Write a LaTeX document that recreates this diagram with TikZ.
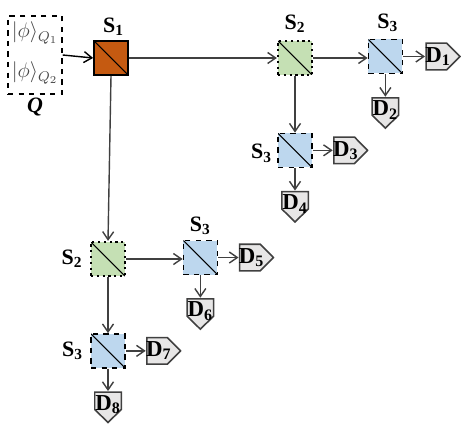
\documentclass[tikz,border=0pt]{standalone}
\usepackage{fontspec}
\setmainfont{Liberation Serif}
\usepackage{amsmath,amssymb}
\usetikzlibrary{arrows.meta,positioning}
\definecolor{splitorange}{RGB}{197,90,17}
\definecolor{splitgreen}{RGB}{197,224,180}
\definecolor{splitblue}{RGB}{189,215,238}
\definecolor{detgray}{RGB}{231,230,230}
\definecolor{wiregray}{RGB}{64,64,64}
\newcommand{\lbl}[2]{\textbf{#1\textsubscript{#2}}}
\newcommand{\rlbl}[1]{\mbox{\lbl{D}{#1}\hspace{0.2cm}}}
\newcommand{\dlbl}[1]{\raisebox{0.08cm}[0.7em][0.1em]{\lbl{D}{#1}}}
\tikzset{
  splitter/.style={draw=black, minimum width=0.68cm, minimum height=0.68cm, inner sep=0pt,
    path picture={\draw[solid, line width=0.6pt] (path picture bounding box.north west) -- (path picture bounding box.south east);}},
  firstbs/.style={splitter, fill=splitorange, line width=1pt},
  secondbs/.style={splitter, fill=splitgreen, line width=1.3pt, dotted},
  thirdbs/.style={splitter, fill=splitblue, line width=0.8pt, dashed},
  detector/.style={inner sep=0pt, font=\fontsize{13}{13}\selectfont},
  detright/.style={detector, minimum width=0.64cm, minimum height=0.56cm,
    path picture={\draw[draw=wiregray, fill=detgray, line width=0.9pt]
      ([shift={(0.4pt,-0.4pt)}]path picture bounding box.north west)
      -- ([shift={(-0.28cm,-0.4pt)}]path picture bounding box.north east)
      -- ([xshift=-0.5pt]path picture bounding box.east)
      -- ([shift={(-0.28cm,0.4pt)}]path picture bounding box.south east)
      -- ([shift={(0.4pt,0.4pt)}]path picture bounding box.south west) -- cycle;}},
  detdown/.style={detector, minimum width=0.56cm, minimum height=0.64cm,
    path picture={\draw[draw=wiregray, fill=detgray, line width=0.9pt]
      ([shift={(0.4pt,-0.4pt)}]path picture bounding box.north west)
      -- ([shift={(-0.4pt,-0.4pt)}]path picture bounding box.north east)
      -- ([shift={(-0.4pt,0.28cm)}]path picture bounding box.south east)
      -- ([yshift=0.5pt]path picture bounding box.south)
      -- ([shift={(0.4pt,0.28cm)}]path picture bounding box.south west) -- cycle;}},
  stage/.style={font=\fontsize{12.5}{13}\selectfont, inner sep=0pt},
  wire/.style={->, draw=wiregray, line width=0.8pt}
}
\begin{document}
\begin{tikzpicture}[>={Straight Barb[length=1.6mm,width=2.2mm]}]
\useasboundingbox (0,0) rectangle (9.38,-8.64);
\node[draw=black, dashed, line width=0.8pt, minimum width=1.08cm, minimum height=1.56cm, inner sep=0pt] (Q) at (0.7,-1.1) {};
\node[text=black!72, font=\fontsize{12}{12}\selectfont, inner sep=0pt] (q1) at (0.7,-0.66) {$|\phi\rangle_{Q_1}$};
\node[text=black!72, font=\fontsize{12}{12}\selectfont, inner sep=0pt] (q2) at (0.7,-1.46) {$|\phi\rangle_{Q_2}$};
\node[below=0.06cm of Q, stage] (qlabel) {\textbf{\textit{Q}}};

\node[firstbs] (s1) at (2.22,-1.16) {};
\node[right=2.96cm of s1, secondbs] (s2a) {};
\node[right=1.09cm of s2a, yshift=0.03cm, thirdbs] (s3a) {};
\node[below=1.13cm of s2a, thirdbs] (s3b) {};
\node[below=3.3cm of s1, xshift=-0.06cm, secondbs] (s2b) {};
\node[right=1.13cm of s2b, yshift=0.03cm, thirdbs] (s3c) {};
\node[below=1.12cm of s2b, thirdbs] (s3d) {};

\node[right=0.44cm of s3a, detright] (d1) {\rlbl{1}};
\node[below=0.45cm of s3a, detdown] (d2) {\dlbl{2}};
\node[right=0.4cm of s3b, detright] (d3) {\rlbl{3}};
\node[below=0.45cm of s3b, detdown] (d4) {\dlbl{4}};
\node[right=0.41cm of s3c, detright] (d5) {\rlbl{5}};
\node[below=0.45cm of s3c, detdown] (d6) {\dlbl{6}};
\node[right=0.4cm of s3d, detright] (d7) {\rlbl{7}};
\node[below=0.45cm of s3d, detdown] (d8) {\dlbl{8}};

\node[above=0.08cm of s1, xshift=0.05cm, stage] (l1) {\lbl{S}{1}};
\node[above=0.14cm of s2a, stage] (l2) {\lbl{S}{2}};
\node[above=0.14cm of s3a, xshift=0.05cm, stage] (l3) {\lbl{S}{3}};
\node[left=0.1cm of s3b, yshift=-0.06cm, stage] (l4) {\lbl{S}{3}};
\node[left=0.14cm of s2b, stage] (l5) {\lbl{S}{2}};
\node[above=0.1cm of s3c, stage] (l6) {\lbl{S}{3}};
\node[left=0.14cm of s3d, stage] (l7) {\lbl{S}{3}};

\draw[wire, draw=black] (Q.east) -- (s1.west);
\draw[wire] (s1.east) -- (s2a.west);
\draw[wire] (s1.south) -- (s2b.north);
\draw[wire] (s2a.east) -- (s2a.east -| s3a.west);
\draw[wire] (s2a.south) -- (s3b.north);
\draw[wire] (s2b.east) -- (s2b.east -| s3c.west);
\draw[wire] (s2b.south) -- (s3d.north);
\draw[wire] (s3a.east) -- (d1.west);
\draw[wire] (s3a.south) -- (d2.north);
\draw[wire] (s3b.east) -- (d3.west);
\draw[wire] (s3b.south) -- (d4.north);
\draw[wire] (s3c.east) -- (d5.west);
\draw[wire] (s3c.south) -- (d6.north);
\draw[wire] (s3d.east) -- (d7.west);
\draw[wire] (s3d.south) -- (d8.north);
\end{tikzpicture}
\end{document}
